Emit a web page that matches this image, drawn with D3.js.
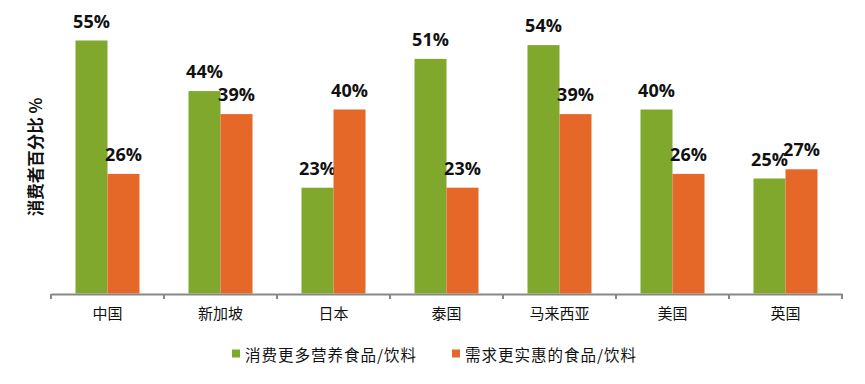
<!DOCTYPE html>
<html><head><meta charset="utf-8">
<script src="https://cdn.jsdelivr.net/npm/d3@7"></script>
<style>
html,body{margin:0;padding:0;background:#fff;}
svg{display:block;}
</style></head>
<body>
<svg id="chart" width="865" height="384"></svg>
<script>
const categories = ["中国","新加坡","日本","泰国","马来西亚","美国","英国"];
const seriesNames = ["消费更多营养食品/饮料","需求更实惠的食品/饮料"];
const nutritious = [55,44,23,51,54,40,25];
const affordable = [26,39,40,23,39,26,27];
const colors = ["#80A82C","#E66828"];
const yLabel = "消费者百分比 %";

const svg = d3.select("#chart");
const x = d3.scaleBand().domain(categories).range([51,842]).padding(0);
const y = d3.scaleLinear().domain([0,60]).range([293.5,17.5]);
const barW = 32;
const series = [nutritious, affordable];

const g = svg.append("g");
series.forEach((vals, si) => {
  g.selectAll(".bar"+si).data(vals).enter().append("rect")
    .attr("x",(d,i)=> x(categories[i]) + x.bandwidth()/2 - barW + si*barW)
    .attr("y",d=>y(d))
    .attr("width",barW)
    .attr("height",d=>y(0)-y(d))
    .attr("fill",colors[si]);
  g.selectAll(".lab"+si).data(vals).enter().append("text")
    .attr("x",(d,i)=> x(categories[i]) + x.bandwidth()/2 - barW/2 + si*barW)
    .attr("y",d=>y(d)-13)
    .attr("text-anchor","middle")
    .attr("font-family","'Open Sans', sans-serif")
    .attr("font-weight","700")
    .attr("font-size","18px")
    .attr("fill","#111")
    .text(d=>d+"%");
});

// x axis
const axis = d3.axisBottom(x).tickSize(0).tickPadding(14);
const ax = svg.append("g").attr("transform","translate(0,294)").call(axis);
ax.select(".domain").attr("stroke","#888").attr("stroke-width",2);
ax.selectAll(".tick text")
  .attr("font-family","'Noto Sans CJK SC', sans-serif")
  .attr("font-size","15px").attr("fill","#111");
const bounds = categories.map(c=>x(c)).concat([x.range()[1]]);
ax.selectAll(".sep").data(bounds).enter().append("line")
  .attr("x1",d=>d).attr("x2",d=>d).attr("y1",0).attr("y2",5)
  .attr("stroke","#888").attr("stroke-width",2);

// y label
svg.append("text")
  .attr("transform","translate(42,157) rotate(-90)")
  .attr("text-anchor","middle")
  .attr("font-family","'Noto Sans CJK SC', serif")
  .attr("font-weight","700")
  .attr("font-size","16.5px")
  .attr("fill","#111")
  .text(yLabel);

// legend
const legX = [232, 452];
seriesNames.forEach((n,i)=>{
  svg.append("rect").attr("x",legX[i]).attr("y",349.5).attr("width",8).attr("height",8).attr("fill",colors[i]);
  svg.append("text").attr("x",legX[i]+13).attr("y",360.5)
    .attr("font-family","'Noto Sans CJK SC', sans-serif")
    .attr("font-size","15.5px").attr("letter-spacing","1px").attr("fill","#111")
    .text(n);
});
</script>
</body></html>
